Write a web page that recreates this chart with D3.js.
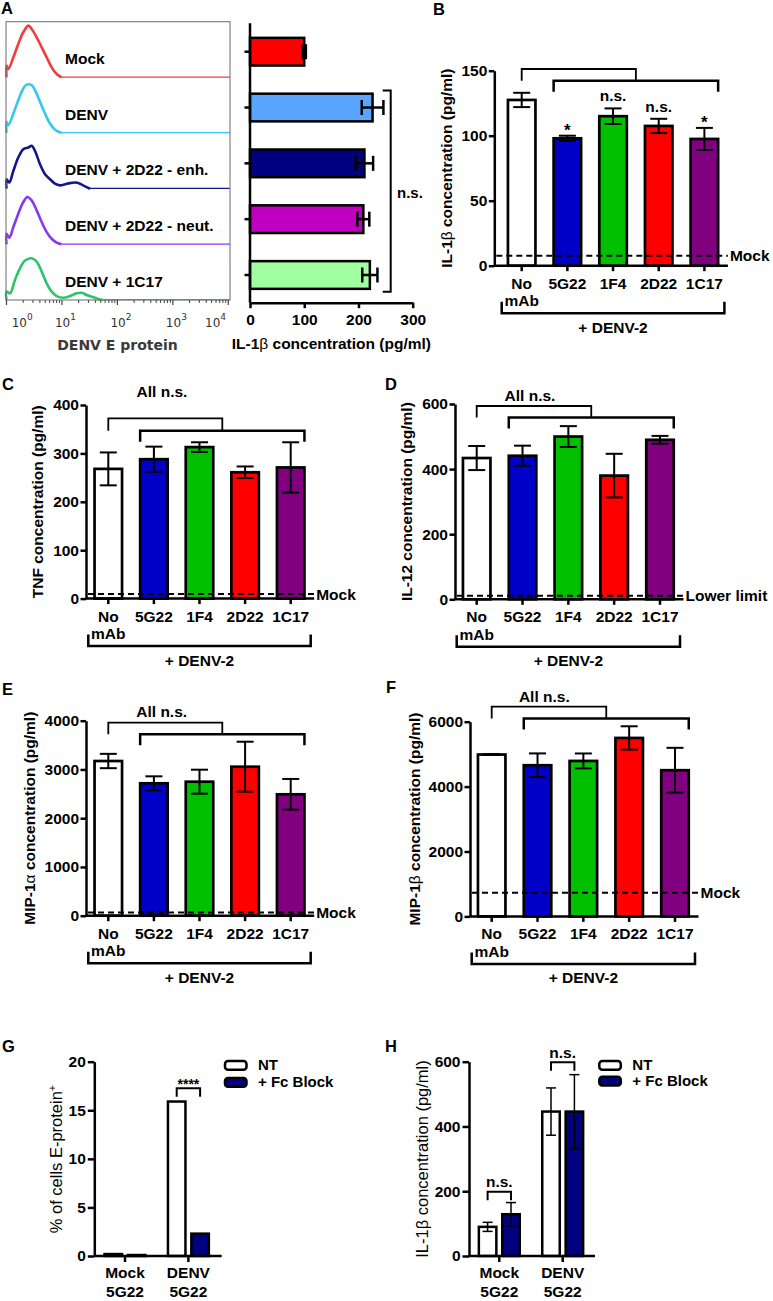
<!DOCTYPE html>
<html><head><meta charset="utf-8">
<script src="https://cdn.jsdelivr.net/npm/d3@7"></script>
<style>body{margin:0;background:#fff}svg{display:block}</style>
</head><body>
<svg id="fig" width="773" height="1301" xmlns="http://www.w3.org/2000/svg"></svg>
<script>
// ---------------- DATA ----------------
// Panel A : flow histograms ([E-protein intensity, relative count])
const histCategories = ["Mock", "DENV", "DENV + 2D22 - enh.", "DENV + 2D22 - neut.", "DENV + 1C17"];
const histMock = [[1,0],[1,0.21],[1.08,0.15],[1.33,0.36],[1.63,0.60],[2.01,0.81],[2.48,0.93],[2.84,0.87],[3.5,0.72],[4.31,0.54],[5.3,0.36],[6.53,0.18],[8.03,0.06],[9.9,0]];
const histDENV = [[1,0],[1,0.2],[1.08,0.14],[1.33,0.35],[1.63,0.59],[2.01,0.80],[2.31,0.87],[2.84,0.86],[3.26,0.77],[4.02,0.56],[4.95,0.35],[6.09,0.17],[7.49,0.06],[9.9,0]];
const histEnh = [[1,0],[1,0.17],[1.12,0.11],[1.33,0.32],[1.63,0.56],[2.01,0.71],[2.48,0.74],[2.84,0.77],[3.26,0.68],[4.02,0.44],[4.95,0.26],[6.09,0.17],[7.49,0.09],[9.22,0.06],[11.4,0.08],[14.0,0.10],[17.2,0.11],[21.2,0.09],[26.1,0.04],[32.1,0]];
const histNeut = [[1,0],[1,0.19],[1.12,0.12],[1.33,0.31],[1.63,0.55],[2.01,0.76],[2.38,0.85],[2.84,0.79],[3.5,0.61],[4.31,0.40],[5.3,0.22],[6.53,0.10],[8.03,0.03],[9.9,0]];
const hist1C17 = [[1,0],[1,0.15],[1.16,0.12],[1.42,0.36],[1.75,0.57],[2.16,0.71],[2.84,0.75],[3.5,0.69],[4.31,0.51],[5.3,0.30],[6.53,0.15],[8.03,0.07],[10.6,0.04],[14.0,0.07],[18.4,0.12],[22.7,0.13],[27.9,0.09],[36.8,0.05],[48.5,0.01],[55.7,0]];
const histDecades = [1, 10, 100, 1000, 10000];
// Panel A : IL-1beta bars
const aIL1b = [100, 226, 211, 209, 221];
const aIL1bErr = [3, 20, 16, 11, 14];
const aTicks = [0, 100, 200, 300];

// Panels B-F
const mAbCategories = ["No mAb", "5G22", "1F4", "2D22", "1C17"];
const bIL1b = [127.5, 98, 115, 107.5, 97.5];
const bIL1bErr = [5.5, 2, 6, 5.5, 8.5];
const bMock = 7.7;
const bSig = ["", "*", "n.s.", "n.s.", "*"];
const bTicks = [0, 50, 100, 150];
const cTNF = [268, 288, 313, 261, 271];
const cTNFErr = [34, 26, 10, 12, 52];
const cMock = 9.5;
const cTicks = [0, 100, 200, 300, 400];
const dIL12 = [434, 441, 500, 380, 490];
const dIL12Err = [37, 31, 32, 67, 12];
const dLower = 11;
const dTicks = [0, 200, 400, 600];
const eMIP1a = [3173, 2716, 2749, 3056, 2490];
const eMIP1aErr = [147, 143, 246, 513, 315];
const eMock = 65;
const eTicks = [0, 1000, 2000, 3000, 4000];
const fMIP1b = [4988, 4658, 4791, 5499, 4505];
const fMIP1bErr = [15, 365, 230, 360, 690];
const fMock = 730;
const fTicks = [0, 2000, 4000, 6000];

// Panels G-H
const fcGroups = [["Mock", "5G22"], ["DENV", "5G22"]];
const fcSeries = ["NT", "+ Fc Block"];
const gNT = [0.2, 15.9];
const gFc = [0.1, 2.3];
const gTicks = [0, 5, 10, 15, 20];
const hNT = [90, 446];
const hNTErr = [14, 73];
const hFc = [129, 446];
const hFcErr = [36, 114];
const hTicks = [0, 200, 400, 600];

// ---------------- STYLE ----------------
const FONT = "'Liberation Sans', Arial, Helvetica, sans-serif";
const DJ = "'DejaVu Sans', Verdana, sans-serif";
const histColors = ["#f03c3c", "#33c8f2", "#16168c", "#8a38ee", "#2ec46c"];
const aColors = ["#ff0000", "#5aa6ff", "#000080", "#c000c0", "#a0ffa0"];
const mAbColors = ["#ffffff", "#0000c8", "#00c000", "#ff0000", "#800080"];
const fcColors = ["#ffffff", "#000080"];
const fmt = d3.format("d");

const svg = d3.select("#fig");

function T(g, x, y, s, o = {}) {
  return g.append("text").attr("x", x).attr("y", y).text(s)
    .attr("font-family", o.family || FONT).attr("font-size", o.size || 15.5)
    .attr("font-weight", o.weight || "bold").attr("fill", o.fill || "#000")
    .attr("text-anchor", o.anchor || "start");
}
function P(g, pts, sw = 2.5, color = "#000") {
  return g.append("path").attr("d", d3.line()(pts)).attr("fill", "none")
    .attr("stroke", color).attr("stroke-width", sw);
}
function rich(t, parts) {
  t.text(null);
  parts.forEach(p => {
    const s = t.append("tspan").text(p.t);
    if (p.w) s.attr("font-weight", p.w);
    if (p.sup) s.attr("baseline-shift", "super").attr("font-size", p.sup);
  });
  return t;
}
function rotTitle(g, x, y, parts, size, weight) {
  const t = g.append("text").attr("transform", `translate(${x},${y}) rotate(-90)`)
    .attr("text-anchor", "middle").attr("font-family", FONT)
    .attr("font-size", size).attr("font-weight", weight).attr("fill", "#000");
  return rich(t, parts);
}
function styleAxis(sel, sw, fs) {
  sel.attr("font-family", FONT).attr("font-size", fs).attr("font-weight", "bold");
  sel.selectAll("path,line").attr("stroke", "#000").attr("stroke-width", sw);
  sel.selectAll("text").attr("fill", "#000");
}

// Panel letters
[["A", 1, 14], ["B", 433, 15], ["C", 2, 390], ["D", 385, 390], ["E", 2, 695], ["F", 386, 693], ["G", 2, 1052], ["H", 385, 1052]]
  .forEach(([l, x, y]) => T(svg, x, y, l, { size: 16.5 }));

// ---------------- PANEL A : histograms ----------------
(function () {
  const g = svg.append("g");
  const hx = d3.scaleLog().domain([1, 1e4]).range([6.5, 228.3]);
  const rowTop = 21.7, rowH = 55.66, boxL = 6, boxR = 230;
  const series = [histMock, histDENV, histEnh, histNeut, hist1C17];
  series.forEach((s, i) => {
    const base = rowTop + (i + 1) * rowH;
    const hy = d3.scaleLinear().domain([0, 1]).range([base, base - rowH]);
    const last = s[s.length - 1];
    g.append("line").attr("x1", hx(last[0])).attr("x2", boxR).attr("y1", base - 0.3).attr("y2", base - 0.3)
      .attr("stroke", histColors[i]).attr("stroke-width", 1.3);
    g.append("path").attr("d", d3.line().x(d => hx(d[0])).y(d => hy(d[1])).curve(d3.curveCatmullRom.alpha(0.5))(s))
      .attr("fill", "none").attr("stroke", histColors[i]).attr("stroke-width", 2.6).attr("stroke-linejoin", "round");
    T(g, 65, base - 13.5, histCategories[i], { size: 15.5 });
  });
  g.append("rect").attr("x", boxL).attr("y", rowTop).attr("width", boxR - boxL).attr("height", rowH * 5)
    .attr("fill", "none").attr("stroke", "#777").attr("stroke-width", 1.1);
  const axY = rowTop + 5 * rowH;
  const minor = [];
  histDecades.slice(0, -1).forEach(d => { for (let k = 2; k <= 9; k++) minor.push(d * k); });
  g.selectAll("line.mn").data(minor).join("line").attr("x1", d => hx(d)).attr("x2", d => hx(d))
    .attr("y1", axY).attr("y2", axY + 3).attr("stroke", "#444").attr("stroke-width", 1);
  g.selectAll("line.mj").data(histDecades).join("line").attr("x1", d => hx(d)).attr("x2", d => hx(d))
    .attr("y1", axY).attr("y2", axY + 5).attr("stroke", "#444").attr("stroke-width", 1.2);
  histDecades.forEach((d) => {
    const x = Math.max(11.7, Math.min(205, hx(d) - 7));
    const t = g.append("text").attr("x", x).attr("y", 326.7).attr("font-family", DJ).attr("font-size", 12).attr("fill", "#333");
    t.append("tspan").text("10");
    t.append("tspan").text(String(Math.round(Math.log10(d)))).attr("font-size", 9).attr("dy", -6.5);
  });
  T(g, 117.5, 349.5, "DENV E protein", { family: DJ, size: 14, fill: "#3a3a3a", anchor: "middle" });
})();

// ---------------- PANEL A : bars ----------------
(function () {
  const g = svg.append("g");
  const ax = d3.scaleLinear().domain([0, 300]).range([250, 412.7]);
  const ay = d3.scalePoint().domain(histCategories).range([51.7, 275]);
  const bh = 27.7;
  g.selectAll("rect").data(aIL1b).join("rect")
    .attr("x", ax(0)).attr("y", (d, i) => ay(histCategories[i]) - bh / 2)
    .attr("width", d => ax(d) - ax(0)).attr("height", bh)
    .attr("fill", (d, i) => aColors[i]).attr("stroke", "#000").attr("stroke-width", 2.5);
  aIL1b.forEach((v, i) => {
    const y = ay(histCategories[i]), e = aIL1bErr[i];
    P(g, [[ax(v - e), y], [ax(v + e), y]], 2.5);
    P(g, [[ax(v - e), y - 7.5], [ax(v - e), y + 7.5]], 2.5);
    P(g, [[ax(v + e), y - 7.5], [ax(v + e), y + 7.5]], 2.5);
  });
  P(g, [[250, 23.3], [250, 302.7]], 2.5);
  histCategories.forEach(c => P(g, [[244.5, ay(c)], [250, ay(c)]], 2.5));
  const xa = g.append("g").attr("transform", "translate(0,302.7)")
    .call(d3.axisBottom(ax).tickValues(aTicks).tickFormat(fmt).tickSize(5.5).tickPadding(6).tickSizeOuter(0));
  styleAxis(xa, 2.5, 15.5);
  rich(T(g, (ax(0) + ax(300)) / 2, 349, "", { size: 15.5, anchor: "middle" }), [{ t: "IL-1" }, { t: "β", w: "normal" }, { t: " concentration (pg/ml)" }]);
  const top = ay(histCategories[1]) - 17, bot = ay(histCategories[4]) + 16.7;
  P(g, [[382.7, top], [390.7, top], [390.7, bot], [382.7, bot]], 2);
  T(g, 397, 198, "n.s.", { size: 15 });
})();

// ---------------- PANELS B-F ----------------
function mabPanel(c) {
  const g = svg.append("g");
  const y = d3.scaleLinear().domain([0, c.max]).range([c.y0, c.yTop]);
  const x = d3.scalePoint().domain(mAbCategories).range([c.c0, c.c1]);
  const bw = 27.5, xEnd = c.c1 + 23.5;
  g.selectAll("rect").data(c.vals).join("rect")
    .attr("x", (d, i) => x(mAbCategories[i]) - bw / 2).attr("y", d => y(d))
    .attr("width", bw).attr("height", d => y(0) - y(d))
    .attr("fill", (d, i) => mAbColors[i]).attr("stroke", "#000").attr("stroke-width", 2.7);
  c.vals.forEach((v, i) => {
    const cx = x(mAbCategories[i]), e = c.errs[i];
    P(g, [[cx, y(v - e)], [cx, y(v + e)]], 2);
    P(g, [[cx - 8.5, y(v + e)], [cx + 8.5, y(v + e)]], 2);
    P(g, [[cx - 8.5, y(v - e)], [cx + 8.5, y(v - e)]], 2);
    if (c.sig && c.sig[i]) {
      const isStar = c.sig[i] === "*";
      T(g, cx, y(v + e) - (isStar ? -0.5 : 7), c.sig[i], { size: isStar ? 17 : 15.5, anchor: "middle" });
    }
  });
  P(g, [[c.ax + 2, y(c.mock)], [xEnd, y(c.mock)]], 2).attr("stroke-dasharray", "6,4");
  T(g, xEnd + 2, y(c.mock) + 5.5, c.mockText, { size: 15.5 });
  const ya = g.append("g").attr("transform", `translate(${c.ax},0)`)
    .call(d3.axisLeft(y).tickValues(c.ticks).tickFormat(fmt).tickSize(5.5).tickPadding(1.5).tickSizeOuter(0));
  styleAxis(ya, 2.5, 15.5);
  P(g, [[c.ax, c.y0], [xEnd, c.y0]], 2.5);
  mAbCategories.forEach(k => P(g, [[x(k), c.y0], [x(k), c.y0 + 5.5]], 2.5));
  mAbCategories.forEach(k => {
    const w = k.split(" ");
    T(g, x(k), c.y0 + 23, w[0], { anchor: "middle" });
    if (w[1]) T(g, x(k), c.y0 + 40.5, w[1], { anchor: "middle" });
  });
  const bl = c.c0 - 20, br = c.c1 + 20;
  P(g, [[bl, c.y0 + 36], [bl, c.y0 + 47.5], [br, c.y0 + 47.5], [br, c.y0 + 36]], 2.5);
  T(g, (bl + br) / 2, c.y0 + 67, "+ DENV-2", { anchor: "middle" });
  const l2 = x(mAbCategories[1]) - bw / 2, r2 = x(mAbCategories[4]) + bw / 2, mid = (l2 + r2) / 2;
  P(g, [[x(mAbCategories[0]), c.b2Y], [x(mAbCategories[0]), c.b1Top], [mid, c.b1Top], [mid, c.b2Y]], 1.8);
  P(g, [[l2, c.b2Y + 11], [l2, c.b2Y], [r2, c.b2Y], [r2, c.b2Y + 11]], 2.5);
  if (c.allNs) T(g, c.allNs[0], c.allNs[1], "All n.s.", { anchor: "middle" });
  rotTitle(g, c.titleX, (c.y0 + c.yTop) / 2, c.title, 15.5, "bold");
}

mabPanel({ vals: bIL1b, errs: bIL1bErr, mock: bMock, mockText: "Mock", max: 150, ticks: bTicks, ax: 494.3, y0: 265.7, yTop: 70.7,
  c0: 521.7, c1: 704.4, b1Top: 69, b2Y: 80.7, sig: bSig, titleX: 452,
  title: [{ t: "IL-1" }, { t: "β", w: "normal" }, { t: " concentration (pg/ml)" }] });
mabPanel({ vals: cTNF, errs: cTNFErr, mock: cMock, mockText: "Mock", max: 400, ticks: cTicks, ax: 86, y0: 598.6, yTop: 405,
  c0: 108.3, c1: 290.7, b1Top: 418.3, b2Y: 430.8, allNs: [162, 396.7], titleX: 43.3,
  title: [{ t: "TNF concentration (pg/ml)" }] });
mabPanel({ vals: dIL12, errs: dIL12Err, mock: dLower, mockText: "Lower limit", max: 600, ticks: dTicks, ax: 455, y0: 599.3, yTop: 404,
  c0: 476.7, c1: 660, b1Top: 406, b2Y: 417.5, allNs: [530, 401], titleX: 411.5,
  title: [{ t: "IL-12 concentration (pg/ml)" }] });
mabPanel({ vals: eMIP1a, errs: eMIP1aErr, mock: eMock, mockText: "Mock", max: 4000, ticks: eTicks, ax: 86, y0: 915.7, yTop: 720.7,
  c0: 108.3, c1: 290.7, b1Top: 722.7, b2Y: 734.3, allNs: [161.7, 717], titleX: 35,
  title: [{ t: "MIP-1" }, { t: "α", w: "normal" }, { t: " concentration (pg/ml)" }] });
mabPanel({ vals: fMIP1b, errs: fMIP1bErr, mock: fMock, mockText: "Mock", max: 6000, ticks: fTicks, ax: 470, y0: 916.4, yTop: 721.7,
  c0: 491.7, c1: 675, b1Top: 706.7, b2Y: 718.5, allNs: [544.3, 702], titleX: 420,
  title: [{ t: "MIP-1" }, { t: "β", w: "normal" }, { t: " concentration (pg/ml)" }] });

// ---------------- PANELS G-H ----------------
function fcPanel(c) {
  const g = svg.append("g");
  const y = d3.scaleLinear().domain([0, c.max]).range([1256, 1061.7]);
  const keys = fcGroups.map(d => d.join(" "));
  const x = d3.scalePoint().domain(keys).range([c.g0, c.g0 + 63.4]);
  const sub = d3.scalePoint().domain(fcSeries).range([-11.7, 11.7]);
  const bw = 17.5;
  [c.nt, c.fc].forEach((vals, s) => {
    vals.forEach((v, i) => {
      const cx = x(keys[i]) + sub(fcSeries[s]);
      g.append("rect").attr("x", cx - bw / 2).attr("y", y(v)).attr("width", bw).attr("height", Math.max(0.5, y(0) - y(v)))
        .attr("fill", fcColors[s]).attr("stroke", "#000").attr("stroke-width", 2.5);
      const errs = s === 0 ? c.ntErr : c.fcErr;
      if (errs) {
        const e = errs[i];
        P(g, [[cx, y(v - e)], [cx, y(v + e)]], 1.5);
        P(g, [[cx - 5, y(v + e)], [cx + 5, y(v + e)]], 1.5);
        P(g, [[cx - 5, y(v - e)], [cx + 5, y(v - e)]], 1.5);
      }
    });
  });
  const ya = g.append("g").attr("transform", `translate(${c.ax},0)`)
    .call(d3.axisLeft(y).tickValues(c.ticks).tickFormat(fmt).tickSize(6.5).tickPadding(2).tickSizeOuter(0));
  styleAxis(ya, 2.5, 15.5);
  P(g, [[c.ax, 1256], [c.xEnd, 1256]], 2.5);
  keys.forEach((k, i) => {
    P(g, [[x(k), 1256], [x(k), 1262]], 2.5);
    T(g, x(k), 1278.3, fcGroups[i][0], { anchor: "middle" });
    T(g, x(k), 1296.7, fcGroups[i][1], { anchor: "middle" });
  });
  c.sig.forEach(sg => {
    const l = x(keys[sg.g]) + sub(fcSeries[0]), r = x(keys[sg.g]) + sub(fcSeries[1]);
    P(g, [[l, sg.y + 8.5], [l, sg.y], [r, sg.y], [r, sg.y + 8.5]], 2);
    T(g, (l + r) / 2, sg.y - sg.off, sg.label, { anchor: "middle", size: sg.size });
  });
  fcSeries.forEach((s, i) => {
    const yy = c.legY[i];
    g.append("rect").attr("x", c.legX).attr("y", yy).attr("width", 21.5).attr("height", 8.8).attr("rx", 3)
      .attr("fill", fcColors[i]).attr("stroke", "#000").attr("stroke-width", 2.5);
    T(g, c.legX + 33, yy + 9.3, s, { size: 15 });
  });
  rotTitle(g, c.titleX, 1159, c.title, 16.5, "normal");
}

fcPanel({ nt: gNT, fc: gFc, max: 20, ticks: gTicks, ax: 94.3, xEnd: 221.7, g0: 125, legX: 225, legY: [1061, 1078], titleX: 61.7,
  sig: [{ g: 1, y: 1088.3, label: "****", off: -1, size: 14 }],
  title: [{ t: "% of cells E-protein" }, { t: "+", sup: 11 }] });
fcPanel({ nt: hNT, fc: hFc, ntErr: hNTErr, fcErr: hFcErr, max: 600, ticks: hTicks, ax: 469, xEnd: 595, g0: 499.3, legX: 599.3, legY: [1061, 1076.7], titleX: 428,
  sig: [{ g: 0, y: 1191.7, label: "n.s.", off: 5, size: 15.5 }, { g: 1, y: 1062.3, label: "n.s.", off: 4.6, size: 15.5 }],
  title: [{ t: "IL-1" }, { t: "β" }, { t: " concentration (pg/ml)" }] });
</script>
</body></html>
